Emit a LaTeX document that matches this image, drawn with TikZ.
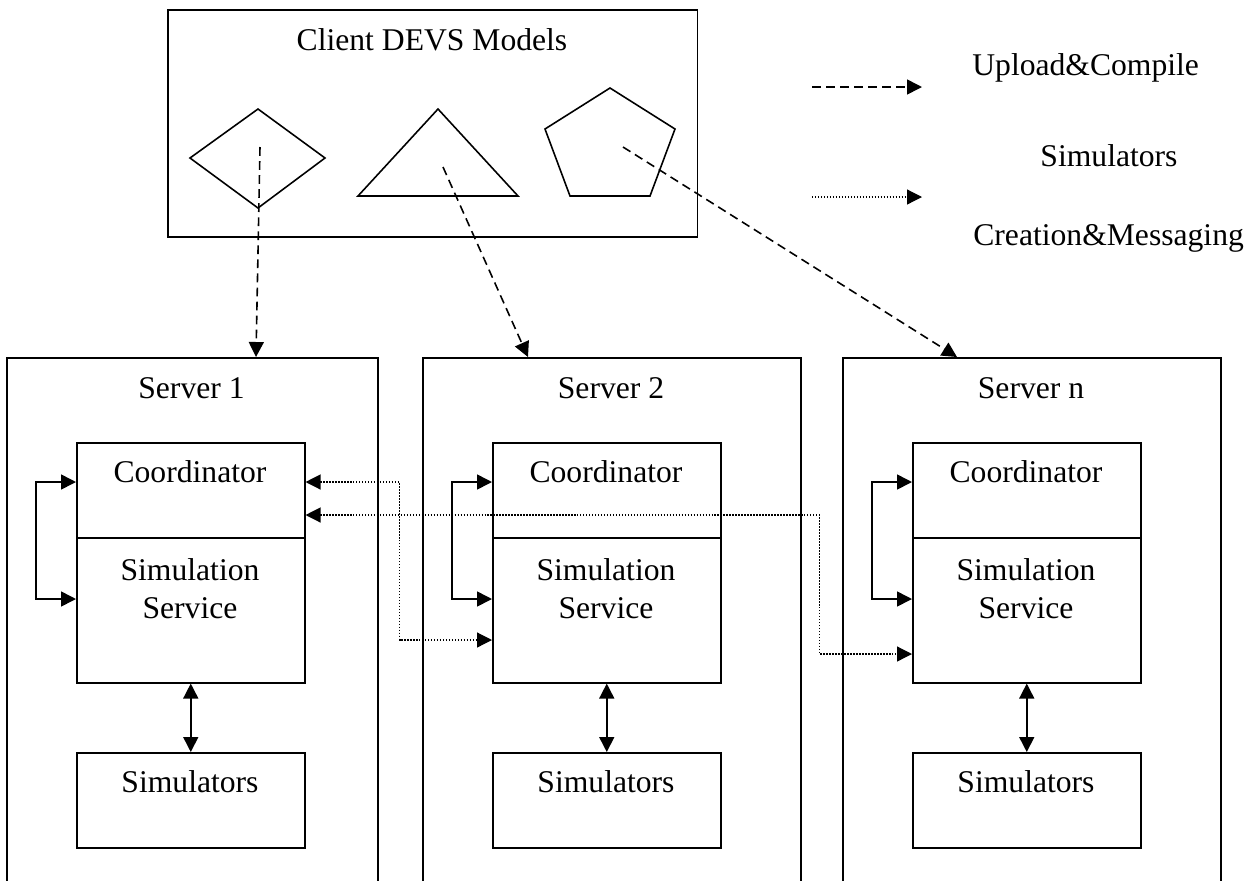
\documentclass[tikz,border=0pt]{standalone}
\usepackage{fontspec}
\setmainfont{Liberation Serif}
\usetikzlibrary{arrows.meta, positioning, calc}

\tikzset{
  box/.style={draw, line width=0.9pt, inner sep=0pt},
  lbl/.style={font=\fontsize{18}{21.6}\selectfont, inner sep=0pt, align=center},
  link/.style={line width=0.9pt, {Triangle[length=0.3cm, width=0.3cm]}-{Triangle[length=0.3cm, width=0.3cm]}},
  upload/.style={line width=0.9pt, dash pattern=on 5pt off 3pt, -{Triangle[length=0.3cm, width=0.3cm]}},
  dots/.style={line width=0.7pt, dash pattern=on 0.8pt off 0.9pt},
  message/.style={dots, {Triangle[length=0.3cm, width=0.3cm]}-{Triangle[length=0.3cm, width=0.3cm]}}
}

\begin{document}
\begin{tikzpicture}[x=0.02cm, y=-0.02cm]
  \useasboundingbox (0,0) rectangle (1255,880);
  \clip (0,0) rectangle (1255,880);

  % Client side
  \node[box, anchor=north west, minimum width=10.6cm, minimum height=4.54cm] (client) at (167,9) {};
  \node[lbl] (clienttitle) at (432,40) {Client DEVS Models};
  \draw[line width=0.9pt] (190,158) -- (258,109) -- (325,158) -- (258,208) -- cycle;
  \draw[line width=0.9pt] (438,109) -- (518,196) -- (358,196) -- cycle;
  \draw[line width=0.9pt] (610,88) -- (675,129) -- (650,196) -- (570,196) -- (545,129) -- cycle;
  \coordinate (diamondc) at (260,147);
  \coordinate (trianglec) at (443,167);
  \coordinate (pentagonc) at (623,147);

  % Legend
  \coordinate (dashA) at (812,87);
  \coordinate (dashB) at (922,87);
  \coordinate (dotA) at (812,197);
  \coordinate (dotB) at (922,197);
  \draw[upload] (dashA) -- (dashB);
  \draw[dots, -{Triangle[length=0.3cm, width=0.3cm]}] (dotA) -- (dotB);
  \node[lbl, anchor=west] (legupload) at (972,68) {Upload\&Compile};
  \node[lbl] (legsim) at (1109,156) {Simulators};
  \node[lbl, anchor=west] (legcreate) at (973,238) {Creation\&Messaging};

  % Servers
  \foreach \k/\sx/\sw/\name in {1/6/371/1, 2/422/378/2, 3/842/378/n} {
    \node[box, anchor=north west, minimum width={\sw*0.02cm}, minimum height=10.8cm] (srv\k) at (\sx,357) {};
    \node[lbl] (srvtxt\k) at ({\sx+\sw/2},388) {Server \name};
    \node[box, anchor=north west, minimum width=4.56cm, minimum height=1.9cm] (coord\k) at ({\sx+70},442) {};
    \node[box, anchor=north west, minimum width=4.56cm, minimum height=2.9cm] (simsvc\k) at ({\sx+70},537) {};
    \node[box, anchor=north west, minimum width=4.56cm, minimum height=1.9cm] (sims\k) at ({\sx+70},752) {};
    \node[lbl] (coordtxt\k) at ({\sx+184},472) {Coordinator};
    \node[lbl] (simsvctxt\k) at ({\sx+184},589) {Simulation\\Service};
    \node[lbl] (simstxt\k) at ({\sx+184},782) {Simulators};
    % coordinator <-> service loop
    \draw[link] ($(coord\k.north west)+(0,40)$) -- ++(-40,0) |- ($(simsvc\k.north west)+(0,62)$);
    \draw[link] (simsvc\k.south) -- (sims\k.north);
  }

  % Upload & compile
  \draw[upload] (diamondc) -- ($(srv1.north west)+(250,0)$);
  \draw[upload] (trianglec) -- ($(srv2.north west)+(106,0)$);
  \draw[upload] (pentagonc) -- ($(srv3.north west)+(115,0)$);

  % Simulators creation & messaging
  \draw[message] ($(coord1.north east)+(0,40)$) -- ++(94,0) |- ($(simsvc2.north west)+(0,103)$);
  \draw[message] ($(coord1.north east)+(0,73)$) -- ++(514,0) |- ($(simsvc3.north west)+(0,117)$);
\end{tikzpicture}
\end{document}
